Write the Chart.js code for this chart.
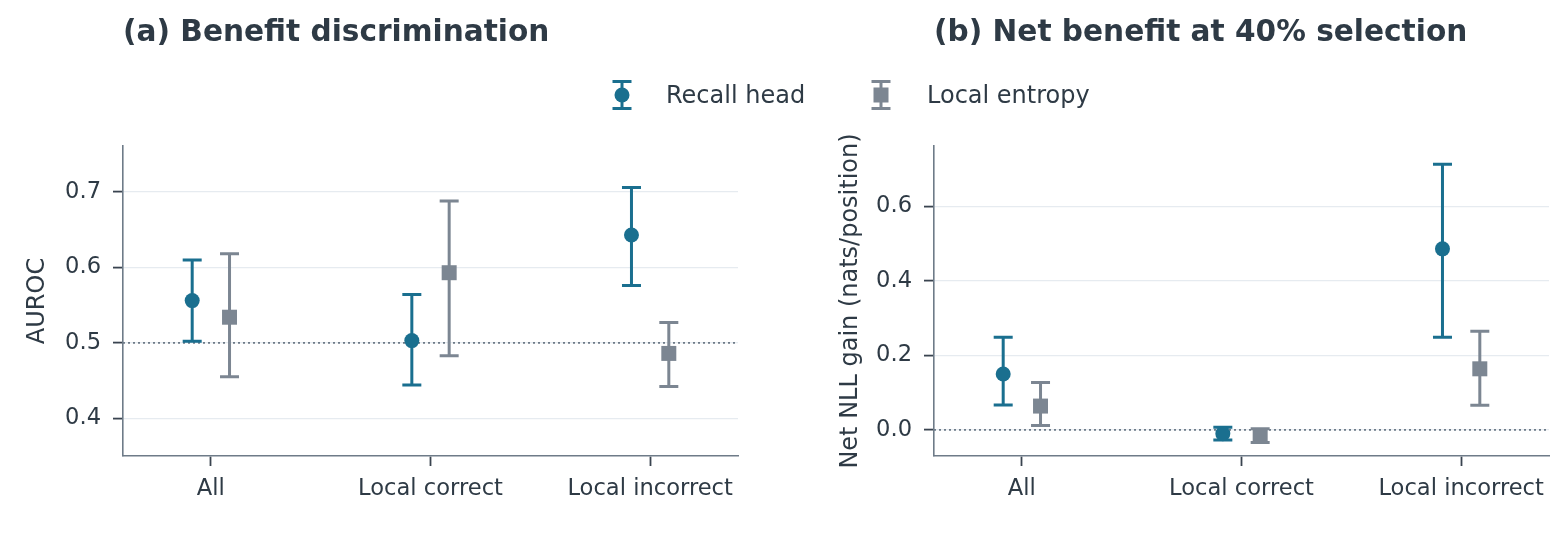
<!DOCTYPE html>
<html lang="en">
  <head>
    <meta charset="UTF-8" />
    <title>Benefit discrimination / Net benefit</title>
    <script src="https://cdn.jsdelivr.net/npm/chart.js@4.4.1/dist/chart.umd.min.js"></script>
    <style>
      body { margin: 0; background: #fff; font-family: "DejaVu Sans", sans-serif; color: #2e3a45; }
      #wrap { position: relative; width: 1564px; height: 548px; overflow: hidden; }
      canvas { position: absolute; top: 0; }
      .ttl { position: absolute; top: 17px; font-size: 29.6px; line-height: 29px; font-weight: bold; white-space: nowrap; }
      .lg { position: absolute; top: 83px; font-size: 24px; line-height: 24px; white-space: nowrap; }
      svg { position: absolute; }
    </style>
  </head>
  <body>
    <div id="wrap">
      <canvas id="chartA" width="782" height="548" style="left:0"></canvas>
      <canvas id="chartB" width="782" height="548" style="left:782px"></canvas>
      <div class="ttl" style="left:123px">(a) Benefit discrimination</div>
      <div class="ttl" style="left:934px">(b) Net benefit at 40% selection</div>
      <svg width="24" height="30" style="left:610px;top:80px">
        <line x1="12" y1="1.5" x2="12" y2="28.5" stroke="#1a6f8f" stroke-width="3" />
        <line x1="2.5" y1="1.5" x2="21.5" y2="1.5" stroke="#1a6f8f" stroke-width="3" />
        <line x1="2.5" y1="28.5" x2="21.5" y2="28.5" stroke="#1a6f8f" stroke-width="3" />
        <circle cx="12" cy="15" r="7.5" fill="#1a6f8f" />
      </svg>
      <div class="lg" style="left:666px">Recall head</div>
      <svg width="24" height="30" style="left:869px;top:80px">
        <line x1="12" y1="1.5" x2="12" y2="28.5" stroke="#7c8692" stroke-width="3" />
        <line x1="2.5" y1="1.5" x2="21.5" y2="1.5" stroke="#7c8692" stroke-width="3" />
        <line x1="2.5" y1="28.5" x2="21.5" y2="28.5" stroke="#7c8692" stroke-width="3" />
        <rect x="4.5" y="7.5" width="15" height="15" fill="#7c8692" />
      </svg>
      <div class="lg" style="left:927px">Local entropy</div>
    </div>
    <script>
      // data
      const categories = ["All", "Local correct", "Local incorrect"];
      const seriesNames = ["Recall head", "Local entropy"];

      // (a) AUROC, mean and interval
      const aurocRecall = [0.556, 0.503, 0.643];
      const aurocRecallLo = [0.502, 0.444, 0.576];
      const aurocRecallHi = [0.610, 0.564, 0.706];
      const aurocEntropy = [0.534, 0.593, 0.486];
      const aurocEntropyLo = [0.455, 0.483, 0.442];
      const aurocEntropyHi = [0.618, 0.688, 0.527];
      const aurocTicks = [0.4, 0.5, 0.6, 0.7];

      // (b) net NLL gain, nats/position
      const gainRecall = [0.150, -0.010, 0.486];
      const gainRecallLo = [0.067, -0.027, 0.249];
      const gainRecallHi = [0.249, 0.007, 0.713];
      const gainEntropy = [0.064, -0.016, 0.164];
      const gainEntropyLo = [0.012, -0.034, 0.066];
      const gainEntropyHi = [0.127, 0.003, 0.265];
      const gainTicks = [0.0, 0.2, 0.4, 0.6];

      const BLUE = "#1a6f8f";
      const GREY = "#7c8692";
      const INK = "#2e3a45";
      const SPINE = "#6e7b88";
      const DODGE = 0.085;

      Chart.defaults.font.family = "'DejaVu Sans', sans-serif";
      Chart.defaults.color = INK;

      // draws the dotted reference line and the error bars under the markers
      const errorBars = {
        id: "errorBars",
        beforeDatasetsDraw(chart, args, opts) {
          const { ctx, chartArea } = chart;
          const x = chart.scales.x, y = chart.scales.y;
          ctx.save();
          const yRef = y.getPixelForValue(opts.ref);
          ctx.strokeStyle = SPINE;
          ctx.lineWidth = 1.6;
          ctx.setLineDash([2, 3]);
          ctx.beginPath();
          ctx.moveTo(chartArea.left, yRef);
          ctx.lineTo(chartArea.right, yRef);
          ctx.stroke();
          ctx.setLineDash([]);
          chart.data.datasets.forEach((ds) => {
            ctx.strokeStyle = ds.barColor;
            ctx.lineWidth = 3;
            ds.data.forEach((p, i) => {
              const px = x.getPixelForValue(p.x);
              const lo = y.getPixelForValue(ds.lo[i]);
              const hi = y.getPixelForValue(ds.hi[i]);
              ctx.beginPath();
              ctx.moveTo(px, lo);
              ctx.lineTo(px, hi);
              ctx.moveTo(px - 9.5, lo);
              ctx.lineTo(px + 9.5, lo);
              ctx.moveTo(px - 9.5, hi);
              ctx.lineTo(px + 9.5, hi);
              ctx.stroke();
            });
          });
          ctx.restore();
        },
      };

      function points(means, shift) {
        return means.map((v, i) => ({ x: i + shift, y: v }));
      }

      function makeChart(id, cfg) {
        return new Chart(document.getElementById(id), {
          type: "scatter",
          data: {
            datasets: [
              {
                label: seriesNames[0],
                data: points(cfg.recall, -DODGE),
                lo: cfg.recallLo,
                hi: cfg.recallHi,
                barColor: BLUE,
                pointStyle: "circle",
                pointRadius: 7.5,
                pointBackgroundColor: BLUE,
                pointBorderWidth: 0,
              },
              {
                label: seriesNames[1],
                data: points(cfg.entropy, DODGE),
                lo: cfg.entropyLo,
                hi: cfg.entropyHi,
                barColor: GREY,
                pointStyle: "rect",
                pointRadius: 10.6,
                pointBackgroundColor: GREY,
                pointBorderWidth: 0,
              },
            ],
          },
          options: {
            responsive: false,
            animation: false,
            layout: { padding: { left: cfg.padLeft, right: cfg.padRight, top: 146, bottom: 0 } },
            plugins: {
              legend: { display: false },
              tooltip: { enabled: false },
              errorBars: { ref: cfg.ref },
            },
            scales: {
              x: {
                type: "linear",
                min: -0.4,
                max: 2.4,
                afterFit: (s) => { s.height = 92; },
                afterBuildTicks: (s) => { s.ticks = categories.map((c, i) => ({ value: i })); },
                ticks: {
                  callback: (v) => categories[v],
                  font: { size: 22.6 },
                  color: INK,
                  padding: 10,
                  maxRotation: 0,
                },
                grid: {
                  drawOnChartArea: false,
                  drawTicks: true,
                  tickLength: 10,
                  tickColor: "#3a4450",
                  tickWidth: 1.8,
                },
                border: { display: true, color: SPINE, width: 1.6 },
              },
              y: {
                min: cfg.yMin,
                max: cfg.yMax,
                afterFit: (s) => { s.width = cfg.yWidth; },
                afterBuildTicks: (s) => { s.ticks = cfg.ticks.map((v) => ({ value: v })); },
                ticks: {
                  callback: (v) => Number(v).toFixed(1),
                  font: { size: 22.6 },
                  color: INK,
                  padding: 12,
                },
                grid: {
                  color: "#e6ebf0",
                  lineWidth: 1.2,
                  tickLength: 10,
                  tickColor: "#3a4450",
                  tickWidth: 1.8,
                },
                border: { display: true, color: SPINE, width: 1.6 },
                title: {
                  display: true,
                  text: cfg.yTitle,
                  font: { size: 24 },
                  color: INK,
                  padding: { top: 4, bottom: 4 },
                },
              },
            },
          },
          plugins: [errorBars],
        });
      }

      makeChart("chartA", {
        recall: aurocRecall, recallLo: aurocRecallLo, recallHi: aurocRecallHi,
        entropy: aurocEntropy, entropyLo: aurocEntropyLo, entropyHi: aurocEntropyHi,
        ticks: aurocTicks, yMin: 0.35, yMax: 0.761, ref: 0.5,
        yTitle: "AUROC", padLeft: 19, yWidth: 104, padRight: 44,
      });

      makeChart("chartB", {
        recall: gainRecall, recallLo: gainRecallLo, recallHi: gainRecallHi,
        entropy: gainEntropy, entropyLo: gainEntropyLo, entropyHi: gainEntropyHi,
        ticks: gainTicks, yMin: -0.07, yMax: 0.762, ref: 0.0,
        yTitle: "Net NLL gain (nats/position)", padLeft: 50, yWidth: 102, padRight: 15,
      });
    </script>
  </body>
</html>
